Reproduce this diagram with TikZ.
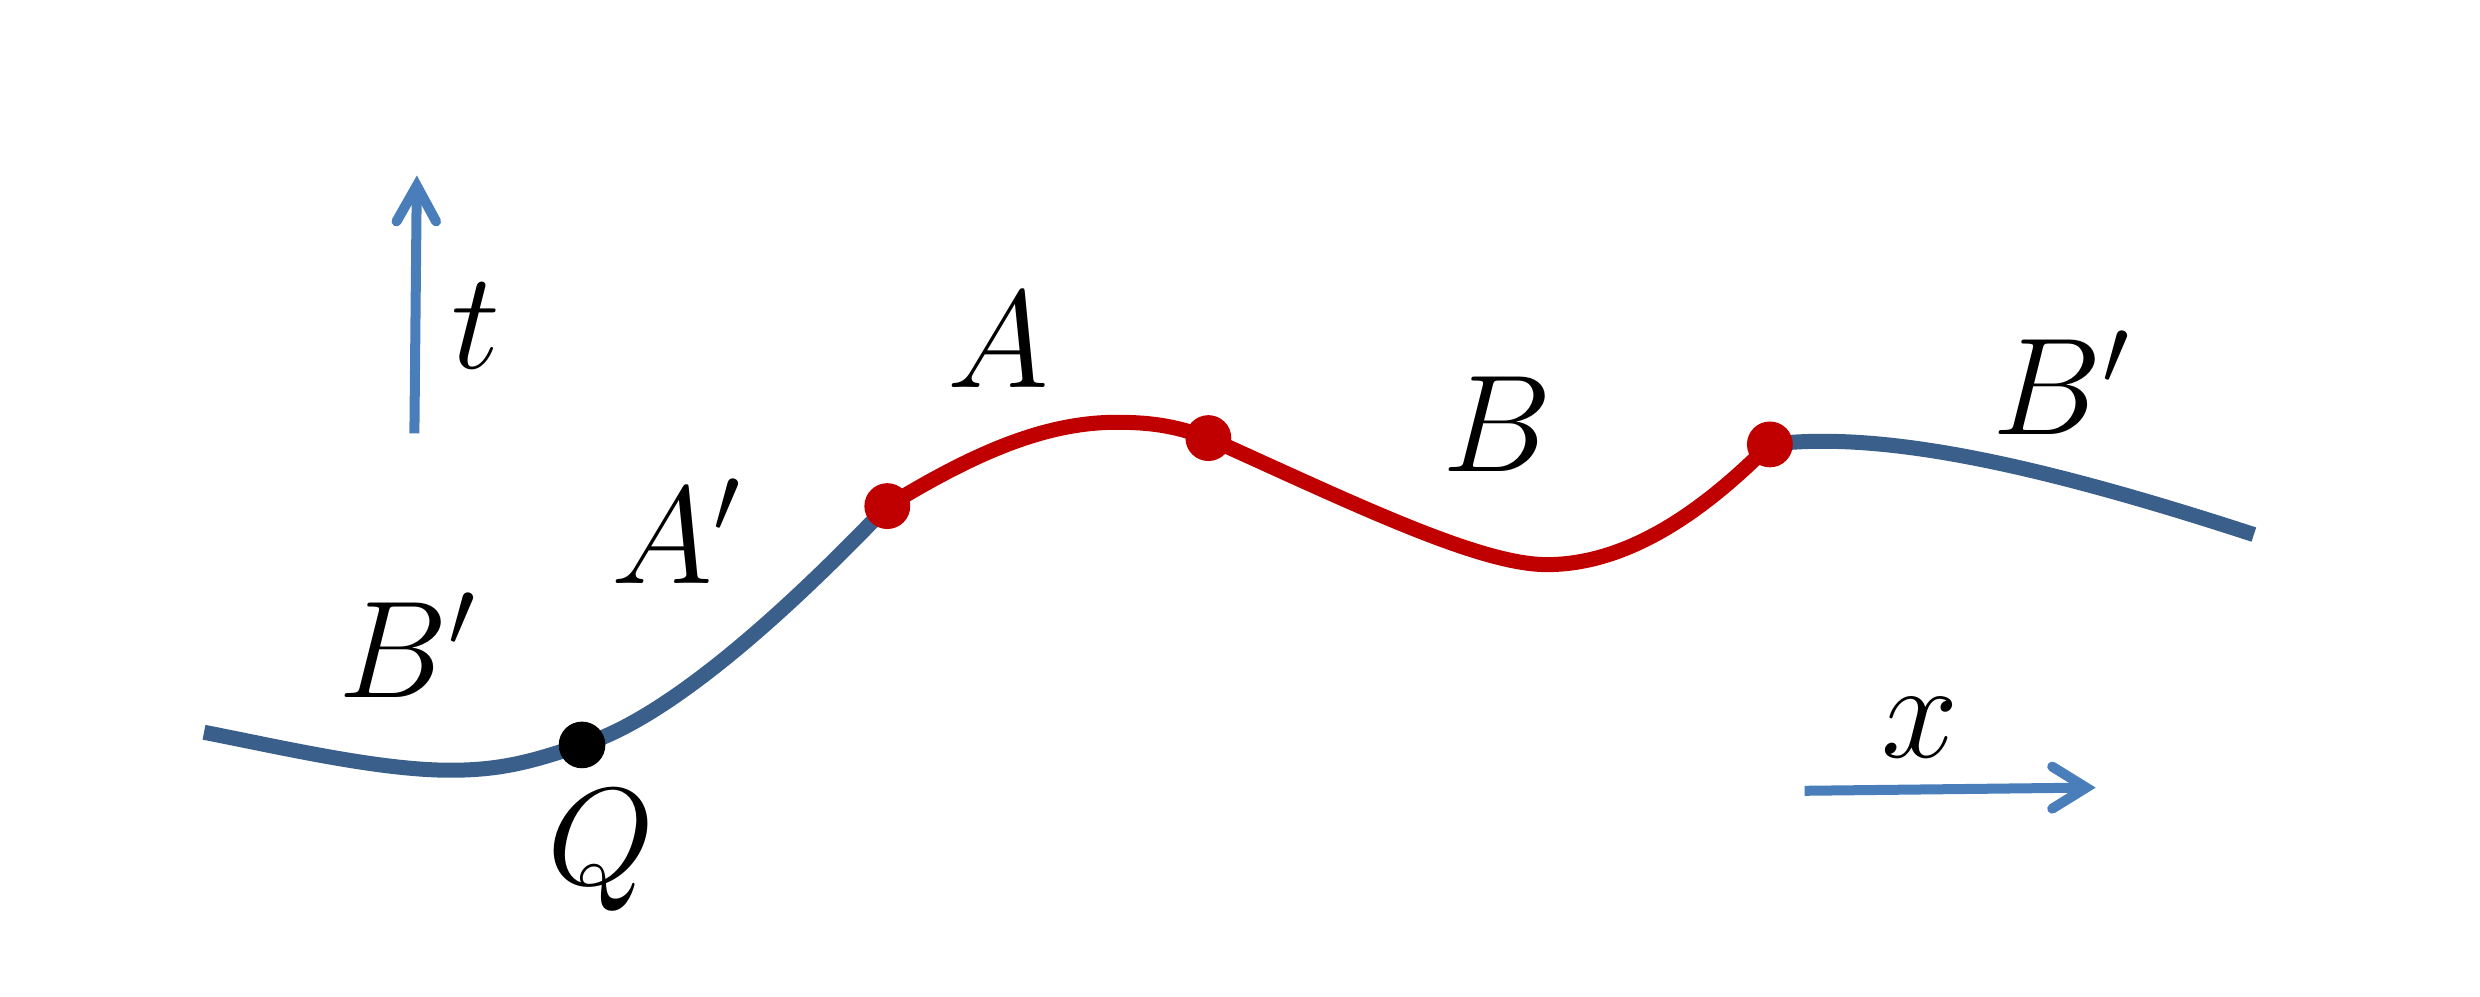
\documentclass[tikz,border=0pt]{standalone}
\usetikzlibrary{calc}
\definecolor{curveblue}{HTML}{3A5F8B}
\definecolor{axisblue}{HTML}{4A7EBB}
\definecolor{curvered}{HTML}{C00000}
\begin{document}
\begin{tikzpicture}[
  curveline/.style={line width=2.7pt},
  axisline/.style={draw=axisblue, line width=1.8pt},
  headline/.style={draw=axisblue, line width=1.8pt, line cap=round, line join=miter},
  lbl/.style={inner sep=0pt, font=\fontsize{23pt}{27pt}\selectfont},
  reddot/.style={circle, fill=curvered, inner sep=0pt, minimum size=0.29cm},
  blackdot/.style={circle, fill=black, inner sep=0pt, minimum size=0.295cm}
]
\useasboundingbox (0,0) rectangle (15.68,6.30);
% key points of the curve
\coordinate (S)  at (1.29,1.67);
\coordinate (M)  at (2.85,1.43);
\coordinate (Qp) at (3.68,1.59);
\coordinate (R1) at (5.61,3.10);
\coordinate (P)  at (7.06,3.63);
\coordinate (R2) at (7.64,3.53);
\coordinate (T)  at (9.78,2.73);
\coordinate (R3) at (11.19,3.49);
\coordinate (E)  at (14.25,2.92);
% blue left part
\draw[curveline, draw=curveblue]
  (S) .. controls (1.80,1.57) and (2.40,1.43) .. (M)
      .. controls (3.20,1.43) and (3.40,1.50) .. (Qp)
      .. controls (4.30,1.78) and (5.15,2.62) .. (R1);
% red middle part
\draw[curveline, draw=curvered]
  (R1) .. controls (6.15,3.43) and (6.60,3.63) .. (P)
       .. controls (7.30,3.63) and (7.45,3.60) .. (R2)
       .. controls (8.55,3.12) and (9.35,2.73) .. (T)
       .. controls (10.35,2.73) and (10.85,3.15) .. (R3);
% blue right part
\draw[curveline, draw=curveblue]
  (R3) .. controls (11.90,3.58) and (12.90,3.36) .. (E);
% dots
\node[blackdot] (q) at (Qp) {};
\node[reddot] (r1) at (R1) {};
\node[reddot] (r2) at (R2) {};
\node[reddot] (r3) at (R3) {};
% t axis
\coordinate (tbot) at (2.62,3.56);
\coordinate (ttop) at (2.635,5.125);
\draw[axisline] (tbot) -- (ttop);
\draw[headline] ($(ttop)+(-0.128,-0.225)$) -- (ttop) -- ($(ttop)+(0.122,-0.225)$);
% x axis
\coordinate (xl) at (11.41,1.30);
\coordinate (xr) at (13.19,1.32);
\draw[axisline] (xl) -- (xr);
\draw[headline] ($(xr)+(-0.215,0.133)$) -- (xr) -- ($(xr)+(-0.215,-0.133)$);
% labels
\node[lbl] (lt) at (3.01,4.24) {$t$};
\node[lbl] (lx) at (12.14,1.70) {$x$};
\node[lbl] (lA) at (6.31,4.15) {$A$};
\node[lbl] (lAp) at (4.28,2.94) {$A'$};
\node[lbl] (lB) at (9.47,3.62) {$B$};
\node[lbl] (lBpr) at (13.04,3.88) {$B'$};
\node[lbl] (lBpl) at (2.58,2.22) {$B'$};
\node[lbl] (lQ) at (3.80,0.92) {$Q$};
\end{tikzpicture}
\end{document}
